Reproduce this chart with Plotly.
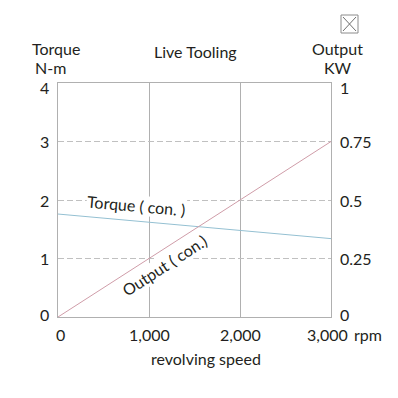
import plotly.graph_objects as go

speed_rpm = [0, 3000]
torque_nm = [1.76, 1.34]
output_kw = [0.0, 0.75]

x_ticks = [0, 1000, 2000, 3000]
x_ticktext = ["0", "1,000", "2,000", "3,000"]
y_left_ticks = [0, 1, 2, 3, 4]
y_left_ticktext = ["0", "1", "2", "3", "4"]
y_right_ticks = [0, 0.25, 0.5, 0.75, 1]
y_right_ticktext = ["0", "0.25", "0.5", "0.75", "1"]

FONT = "Lato"
FS = 16
TXT = "#231f20"
GRID = "#b0b0b0"

W, H = 398, 398
L, R, T, B = 58, 67, 83, 81
PW, PH = W - L - R, H - T - B


def px(xp):
    return (xp - L) / PW


def py(yp):
    return (H - B - yp) / PH


fig = go.Figure()
fig.add_trace(go.Scatter(x=speed_rpm, y=torque_nm, mode="lines",
                         line=dict(color="#94c0d2", width=1), yaxis="y", hoverinfo="skip"))
fig.add_trace(go.Scatter(x=speed_rpm, y=output_kw, mode="lines",
                         line=dict(color="#cf9ca8", width=1), yaxis="y2", hoverinfo="skip"))

tf = dict(family=FONT, size=FS, color=TXT)
fig.update_layout(
    width=W, height=H,
    margin=dict(l=L, r=R, t=T, b=B, pad=0),
    paper_bgcolor="white", plot_bgcolor="white",
    showlegend=False,
    font=tf,
    xaxis=dict(range=[0, 3000], tickvals=x_ticks, showticklabels=False,
               showgrid=True, gridcolor=GRID, gridwidth=1, zeroline=False,
               showline=True, linecolor=GRID, linewidth=1, mirror=True,
               fixedrange=True),
    yaxis=dict(range=[0, 4], tickvals=y_left_ticks, showticklabels=False,
               showgrid=True, gridcolor="#c0c0c0", griddash="6px,3px", gridwidth=1,
               zeroline=False, showline=True, linecolor=GRID, linewidth=1, mirror=True,
               fixedrange=True),
    yaxis2=dict(range=[0, 1], tickvals=y_right_ticks, showticklabels=False,
                overlaying="y", side="right", showgrid=False, zeroline=False,
                showline=False, fixedrange=True),
)

annotations = []
# tick labels (end labels nudged inward, as in the reference)
n = len(y_left_ticks)
for i, (v, t) in enumerate(zip(y_left_ticks, y_left_ticktext)):
    sh = -4 if i == n - 1 else (3 if i == 0 else 0)
    annotations.append(dict(xref="paper", yref="y", x=px(44), y=v, text=t, showarrow=False,
                            xanchor="center", yanchor="middle", yshift=sh, font=tf))
n = len(y_right_ticks)
for i, (v, t) in enumerate(zip(y_right_ticks, y_right_ticktext)):
    sh = -4 if i == n - 1 else (3 if i == 0 else 0)
    annotations.append(dict(xref="paper", yref="y2", x=px(338), y=v, text=t, showarrow=False,
                            xanchor="left", yanchor="middle", yshift=sh, font=tf))
n = len(x_ticks)
for i, (v, t) in enumerate(zip(x_ticks, x_ticktext)):
    sh = 2 if i == 0 else (-4 if i == n - 1 else 0)
    annotations.append(dict(xref="x", yref="paper", x=v, y=py(334), text=t, showarrow=False,
                            xanchor="center", yanchor="middle", xshift=sh, font=tf))

ann = [
    dict(text="Torque", x=px(56), y=py(48)),
    dict(text="N-m", x=px(50), y=py(67)),
    dict(text="Output", x=px(337), y=py(48)),
    dict(text="KW", x=px(338), y=py(67)),
    dict(text="Live Tooling", x=px(195), y=py(51)),
    dict(text="revolving speed", x=px(206), y=py(358)),
    dict(text="rpm", x=px(368), y=py(334)),
]
for a in ann:
    annotations.append(dict(xref="paper", yref="paper", showarrow=False,
                            xanchor="center", yanchor="middle", font=tf, **a))

annotations.append(dict(xref="x", yref="y", x=868, y=1.9, text="Torque ( con. )",
                        showarrow=False, textangle=5, bgcolor="white", borderpad=0,
                        font=tf))
annotations.append(dict(xref="x", yref="y", x=1165, y=0.88, text="Output ( con.)",
                        showarrow=False, textangle=-33, bgcolor="white", borderpad=0,
                        font=tf))
fig.update_layout(annotations=annotations)

# small broken-image icon at top right
fig.add_shape(type="rect", xref="paper", yref="paper", line=dict(color="#8c8c8c", width=1),
              fillcolor="white", x0=px(341), x1=px(358), y0=py(33), y1=py(15))
fig.add_shape(type="line", xref="paper", yref="paper", line=dict(color="#6f6f6f", width=1),
              x0=px(343), x1=px(356), y0=py(17), y1=py(31))
fig.add_shape(type="line", xref="paper", yref="paper", line=dict(color="#6f6f6f", width=1),
              x0=px(343), x1=px(356), y0=py(31), y1=py(17))

fig.write_html("out.html", config={"displayModeBar": False},
               post_script="document.body.style.margin='0';document.body.style.padding='0';")
